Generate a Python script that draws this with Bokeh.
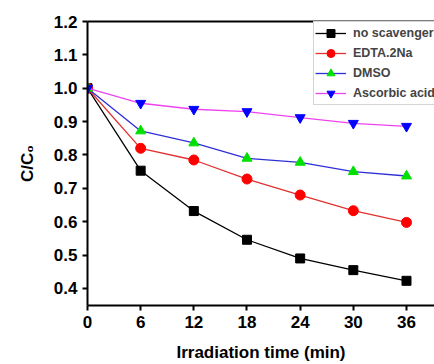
import math
from bokeh.plotting import figure
from bokeh.models import Range1d, FixedTicker, PrintfTickFormatter, LinearAxis, Legend, LegendItem
from bokeh.embed import file_html
from bokeh.resources import INLINE

time_min = [0, 6, 12, 18, 24, 30, 36]
no_scavenger = [1.0, 0.753, 0.632, 0.546, 0.490, 0.455, 0.423]
edta_2na = [1.0, 0.820, 0.785, 0.728, 0.680, 0.633, 0.598]
dmso = [1.0, 0.872, 0.836, 0.790, 0.778, 0.750, 0.737]
ascorbic_acid = [1.0, 0.955, 0.937, 0.930, 0.912, 0.895, 0.886]
x_ticks = [0, 6, 12, 18, 24, 30, 36]
y_ticks = [0.4, 0.5, 0.6, 0.7, 0.8, 0.9, 1.0, 1.1, 1.2]

FONT = "Liberation Sans"

p = figure(width=434, height=364, output_backend="svg", toolbar_location=None,
           x_range=Range1d(0, 39.16), y_range=Range1d(0.349, 1.2),
           min_border_left=87, min_border_right=0, min_border_top=21, min_border_bottom=10)
p.outline_line_color = None
p.xgrid.visible = False
p.ygrid.visible = False
p.background_fill_color = "white"
p.border_fill_color = "white"

for ax in (p.xaxis[0], p.yaxis[0]):
    ax.axis_line_width = 2
    ax.major_tick_line_width = 2
    ax.major_tick_out = 5
    ax.major_tick_in = 0
    ax.minor_tick_line_color = None
    ax.major_label_text_font = FONT
    ax.major_label_text_font_style = "bold"
    ax.major_label_text_font_size = "17px"
    ax.major_label_text_color = "black"
    ax.major_label_standoff = 5
    ax.axis_label_text_font = FONT
    ax.axis_label_text_font_style = "bold"
    ax.axis_label_text_font_size = "17px"
    ax.axis_label_text_color = "black"

p.xaxis.ticker = FixedTicker(ticks=x_ticks)
p.yaxis.ticker = FixedTicker(ticks=y_ticks)
p.yaxis.formatter = PrintfTickFormatter(format="%.1f")
p.xaxis.axis_label = "Irradiation time (min)"
p.xaxis.axis_label_standoff = 12
p.yaxis.axis_label = "C/C\u2080"
p.yaxis.axis_label_standoff = 14

top = LinearAxis(axis_line_width=2, major_tick_line_color=None, minor_tick_line_color=None,
                 major_label_text_font_size="0px", ticker=FixedTicker(ticks=[]))
p.add_layout(top, "above")

series = [
    ("no scavenger", no_scavenger, "black", "black", "square", 9),
    ("EDTA.2Na", edta_2na, "#E03030", "#FF0000", "circle", 10),
    ("DMSO", dmso, "#2F2FD8", "#00E000", "triangle", 10),
    ("Ascorbic acid", ascorbic_acid, "#EE44EE", "#0000FF", "inverted_triangle", 10),
]
items = []
for name, vals, lc, mc, marker, size in series:
    r1 = p.line(time_min, vals, line_color=lc, line_width=1.3)
    r2 = p.scatter(time_min, vals, marker=marker, size=size, fill_color=mc, line_color=mc)
    items.append(LegendItem(label=name, renderers=[r1, r2]))

legend = Legend(items=items, location=(226, 200))
legend.border_line_color = "#AAAAAA"
legend.border_line_width = 1
legend.padding = 1
legend.spacing = 0
legend.margin = 0
legend.glyph_width = 31
legend.glyph_height = 20
legend.label_height = 20
legend.label_standoff = 7
legend.label_text_font = FONT
legend.label_text_font_style = "bold"
legend.label_text_font_size = "12.5px"
legend.background_fill_alpha = 1
p.add_layout(legend, "center")

open("out.html", "w").write(file_html(p, INLINE))
